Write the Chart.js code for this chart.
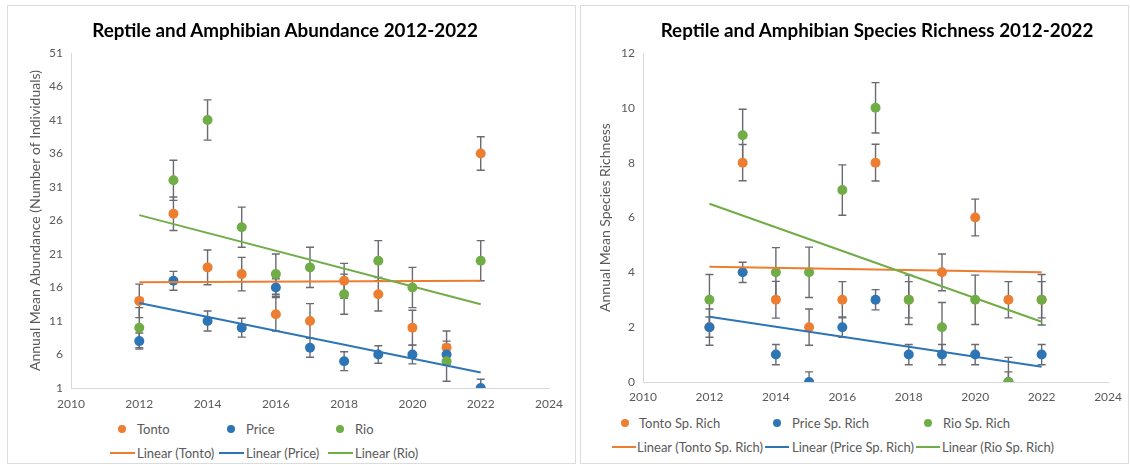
<!DOCTYPE html>
<html><head><meta charset="utf-8">
<script src="https://cdn.jsdelivr.net/npm/chart.js@4.4.1/dist/chart.umd.min.js"></script>
<style>
html,body{margin:0;padding:0;width:1130px;height:465px;overflow:hidden;background:#fff;font-family:Lato,sans-serif;}
.panel{position:absolute;border:1px solid #dcdcdc;box-sizing:border-box;}
canvas{position:absolute;left:0;top:0;}
.wrap{position:absolute;top:0;}
.ttl{position:absolute;top:18px;height:24px;line-height:24px;font-size:18.8px;font-weight:bold;color:#000;text-align:center;white-space:nowrap;}
.lg{position:absolute;font-size:13px;color:#595959;line-height:16px;white-space:nowrap;}
.dot{position:absolute;width:8px;height:8px;border-radius:50%;}
.ln{position:absolute;height:2px;width:25px;}
</style></head><body>
<div class="panel" style="left:7px;top:5px;width:569px;height:459px"></div>
<div class="panel" style="left:580px;top:5px;width:549px;height:459px"></div>
<div class="wrap" style="left:0;width:575px;height:415px"><canvas id="c1" width="575" height="415"></canvas></div>
<div class="wrap" style="left:580px;width:550px;height:410px"><canvas id="c2" width="550" height="410"></canvas></div>
<div id="t1" class="ttl" style="left:85px;width:400px"></div>
<div id="t2" class="ttl" style="left:657px;width:440px"></div>
<div id="lg1"></div><div id="lg2"></div>
<script>
// ---- data ----
const years = [2012, 2013, 2014, 2015, 2016, 2017, 2018, 2019, 2020, 2021, 2022];
const trendYears = [2012, 2022];
const xTickLabels = [2010, 2012, 2014, 2016, 2018, 2020, 2022, 2024];

const abTitle = 'Reptile and Amphibian Abundance 2012-2022';
const abSeries = ['Tonto', 'Price', 'Rio'];
const abTonto = [14, 27, 19, 18, 12, 11, 17, 15, 10, 7, 36];
const abPrice = [8, 17, 11, 10, 16, 7, 5, 6, 6, 6, 1];
const abRio = [10, 32, 41, 25, 18, 19, 15, 20, 16, 5, 20];
const abTontoErr = [2.5, 2.5, 2.6, 2.5, 2.5, 2.6, 2.6, 2.5, 2.6, 2.5, 2.5];
const abPriceErr = [1.2, 1.4, 1.5, 1.4, 1.3, 1.4, 1.4, 1.3, 1.4, 1.5, 1.3];
const abRioErr = [3, 3, 3, 3, 3, 3, 3, 3, 3, 3, 3];
const abTontoTrend = [16.8, 17.0];
const abPriceTrend = [13.7, 3.3];
const abRioTrend = [26.8, 13.5];
const abYTicks = [1, 6, 11, 16, 21, 26, 31, 36, 41, 46, 51];

const srTitle = 'Reptile and Amphibian Species Richness 2012-2022';
const srSeries = ['Tonto Sp. Rich', 'Price Sp. Rich', 'Rio Sp. Rich'];
const srTonto = [2, 8, 3, 2, 3, 8, 3, 4, 6, 3, 3];
const srPrice = [2, 4, 1, 0, 2, 3, 1, 1, 1, 0, 1];
const srRio = [3, 9, 4, 4, 7, 10, 3, 2, 3, 0, 3];
const srTontoErr = [0.66, 0.66, 0.67, 0.66, 0.66, 0.67, 0.66, 0.67, 0.67, 0.66, 0.66];
const srPriceErr = [0.37, 0.37, 0.37, 0.37, 0.37, 0.37, 0.37, 0.37, 0.37, 0.37, 0.37];
const srRioErr = [0.92, 0.95, 0.9, 0.92, 0.92, 0.92, 0.9, 0.9, 0.9, 0.9, 0.92];
const srTontoTrend = [4.2, 4.0];
const srPriceTrend = [2.38, 0.56];
const srRioTrend = [6.5, 2.2];
const srYTicks = [0, 2, 4, 6, 8, 10, 12];

// ---- style ----
const COLORS = ['#ED7D31', '#2E75B6', '#70AD47'];
const FONT = 'Lato, "Open Sans", sans-serif';
const TXT = '#595959';

const errorBars = {
  id: 'errorBars',
  beforeDatasetsDraw(chart) {
    const {ctx, chartArea: a, scales: {x, y}} = chart;
    ctx.save();
    ctx.beginPath();
    ctx.rect(a.left, a.top - 1, a.right - a.left, a.bottom - a.top + 1);
    ctx.clip();
    ctx.strokeStyle = '#6a6a72';
    ctx.lineWidth = 1.4;
    chart.data.datasets.forEach(ds => {
      if (!ds.errors) return;
      ds.data.forEach((p, i) => {
        const e = ds.errors[i];
        const px = x.getPixelForValue(p.x);
        const yt = y.getPixelForValue(p.y + e);
        const yb = y.getPixelForValue(p.y - e);
        ctx.beginPath();
        ctx.moveTo(px, yt); ctx.lineTo(px, yb);
        ctx.moveTo(px - 4, yt); ctx.lineTo(px + 4, yt);
        ctx.moveTo(px - 4, yb); ctx.lineTo(px + 4, yb);
        ctx.stroke();
      });
    });
    ctx.restore();
  }
};

function pts(xs, ys) { return xs.map((v, i) => ({x: v, y: ys[i]})); }

function makeChart(id, o) {
  const datasets = [];
  o.series.forEach((name, k) => {
    datasets.push({
      label: name, data: pts(years, o.values[k]), errors: o.errors[k],
      backgroundColor: COLORS[k], borderColor: COLORS[k], pointRadius: 5,
      pointBorderWidth: 0, pointHoverRadius: 5, showLine: false, order: 6 - k
    });
  });
  o.series.forEach((name, k) => {
    datasets.push({
      label: 'Linear (' + name + ')', data: pts(trendYears, o.trends[k]),
      borderColor: COLORS[k], backgroundColor: COLORS[k], borderWidth: 2,
      pointRadius: 0, showLine: true, order: 3 - k
    });
  });
  return new Chart(document.getElementById(id), {
    type: 'scatter',
    data: {datasets},
    plugins: [errorBars],
    options: {
      responsive: false, animation: false,
      layout: {padding: {left: 0, right: o.padRight, top: 53, bottom: 0}},
      plugins: {legend: {display: false}, tooltip: {enabled: false}, title: {display: false}},
      scales: {
        x: {
          type: 'linear', min: 2010, max: 2024,
          afterBuildTicks: s => { s.ticks = xTickLabels.map(v => ({value: v})); },
          afterFit: s => { s.height = o.xAxisH; },
          ticks: {callback: v => String(v), color: TXT, font: {family: FONT, size: 12}, padding: o.xPad, autoSkip: false, maxRotation: 0},
          grid: {display: false, drawTicks: false},
          border: {display: true, color: '#d9d9d9', width: 1}
        },
        y: {
          type: 'linear', min: o.yTicks[0], max: o.yTicks[o.yTicks.length - 1],
          afterBuildTicks: s => { s.ticks = o.yTicks.map(v => ({value: v})); },
          afterFit: s => { s.width = o.yAxisW; },
          ticks: {color: TXT, font: {family: FONT, size: 12}, padding: 8},
          grid: {display: false, drawTicks: false},
          border: {display: true, color: '#d9d9d9', width: 1},
          title: {display: true, text: o.yTitle, color: TXT, font: {family: FONT, size: 14}, padding: {top: o.yTitlePad, bottom: 0}}
        }
      }
    }
  });
}

makeChart('c1', {
  yTitle: 'Annual Mean Abundance (Number of Individuals)',
  series: abSeries, values: [abTonto, abPrice, abRio],
  errors: [abTontoErr, abPriceErr, abRioErr],
  trends: [abTontoTrend, abPriceTrend, abRioTrend],
  yTicks: abYTicks, padRight: 26, yAxisW: 71, xAxisH: 27, xPad: 9, yTitlePad: 26.6
});
makeChart('c2', {
  yTitle: 'Annual Mean Species Richness',
  series: srSeries, values: [srTonto, srPrice, srRio],
  errors: [srTontoErr, srPriceErr, srRioErr],
  trends: [srTontoTrend, srPriceTrend, srRioTrend],
  yTicks: srYTicks, padRight: 16, yAxisW: 63, xAxisH: 28, xPad: 8, yTitlePad: 16.6
});
document.getElementById('t1').textContent = abTitle;
document.getElementById('t2').textContent = srTitle;

// ---- HTML legends ----
function legend(el, series, L) {
  let h = '';
  series.forEach((name, k) => {
    h += `<div class="dot" style="left:${L.dotX[k] - 4}px;top:${L.row1 - 4}px;background:${COLORS[k]}"></div>`;
    h += `<div class="lg" style="left:${L.txt1[k]}px;top:${L.row1 - 8}px">${name}</div>`;
    h += `<div class="ln" style="left:${L.lnX[k]}px;top:${L.row2 - 1}px;width:${L.lnW}px;background:${COLORS[k]}"></div>`;
    h += `<div class="lg" style="left:${L.txt2[k]}px;top:${L.row2 - 8}px">Linear (${name})</div>`;
  });
  document.getElementById(el).innerHTML = h;
}
legend('lg1', abSeries, {row1: 429, row2: 453, dotX: [122, 231, 340], txt1: [137, 246, 355],
  lnX: [110, 219, 328], lnW: 25, txt2: [137, 246, 355]});
legend('lg2', srSeries, {row1: 423, row2: 447, dotX: [625, 777, 928], txt1: [639, 792, 943],
  lnX: [612, 765, 916], lnW: 24, txt2: [637, 792, 942]});
</script>
</body></html>
